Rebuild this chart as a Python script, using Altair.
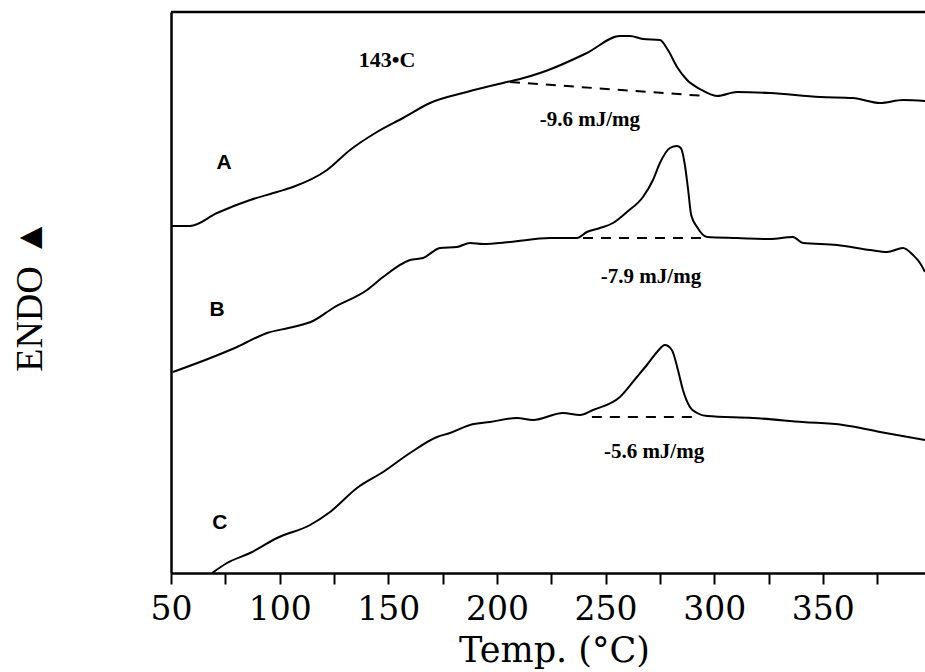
import altair as alt
import pandas as pd

# Curve A (temperature in °C, signal in arbitrary units)
a_x = [50, 58.7, 71.2, 86.4, 98.8, 106.1, 121.8, 132.4, 144.8, 156.8, 169.2, 186.2,
       202.8, 210.6, 221.2, 241.4, 256.6, 261.2, 267.2, 275.0, 278.7, 282.9, 287.5,
       293.4, 301.3, 310.5, 325.7, 348.7, 363.8, 376.3, 386.9, 397.0]
a_y = [347, 347, 360, 373, 381, 386, 403, 423, 441, 455, 470, 481,
       490, 494, 501, 520, 537, 537, 534, 533, 523, 506, 493,
       484, 477, 481, 480, 476, 475, 470, 473, 472]

# Curve B
b_x = [50.9, 69.3, 80.4, 94.2, 106.1, 115.3, 124.6, 140.2, 147.6, 160.0, 166.0, 173.8,
       181.6, 187.6, 193.6, 206.0, 224.4, 236.8, 241.4, 247.4, 253.4, 259.8, 267.2,
       271.8, 275.0, 279.6, 282.8, 284.6, 286.5, 288.0, 289.4, 292.1, 296.7, 310.5,
       325.7, 336.2, 340.8, 356.5, 371.7, 379.5, 386.9, 391.5, 394.7, 397.0]
b_y = [201, 216, 226, 240, 246, 252, 265, 283, 296, 313, 315, 325,
       326, 330, 329, 331, 335, 335, 341, 345, 350, 361, 376,
       393, 410, 425, 427, 425, 408, 383, 358, 346, 336, 335,
       334, 336, 330, 328, 323, 321, 325, 318, 310, 301]

# Curve C
c_x = [68.9, 75.8, 86.4, 98.8, 114.0, 123.2, 135.6, 147.6, 160.0, 172.4, 178.4, 187.6,
       196.8, 209.2, 216.6, 230.4, 238.2, 244.2, 256.6, 264.4, 269.0, 273.7, 277.3,
       280.5, 283.3, 285.6, 288.8, 292.1, 296.7, 317.8, 340.8, 359.3, 376.3, 397.0]
c_y = [0, 10, 20, 35, 48, 61, 85, 101, 120, 136, 140, 148,
       151, 155, 153, 160, 158, 163, 176, 196, 208, 221, 228,
       223, 203, 183, 166, 160, 157, 155, 151, 148, 141, 133]

# Dashed integration baselines
base_curve = ["A", "A", "B", "B", "C", "C"]
base_x = [206.0, 295.7, 239.6, 296.7, 243.7, 290.2]
base_y = [491, 477, 335, 335, 156, 156]

# Annotations
label_text = ["A", "B", "C"]
label_x = [74.4, 71.2, 72.5]
label_y = [410, 263, 50]

enth_text = ["-9.6 mJ/mg", "-7.9 mJ/mg", "-5.6 mJ/mg"]
enth_x = [242.8, 270.9, 272.3]
enth_y = [453, 296, 121]

temp_text = ["143\u2022C"]
temp_x = [149.4]
temp_y = [513]

x_ticks = [50, 75, 100, 125, 150, 175, 200, 225, 250, 275, 300, 325, 350, 375]

curves = pd.concat([
    pd.DataFrame({"x": a_x, "y": a_y, "curve": "A"}),
    pd.DataFrame({"x": b_x, "y": b_y, "curve": "B"}),
    pd.DataFrame({"x": c_x, "y": c_y, "curve": "C"}),
], ignore_index=True)
curves["order"] = range(len(curves))

bases = pd.DataFrame({"x": base_x, "y": base_y, "curve": base_curve})
labels = pd.DataFrame({"x": label_x, "y": label_y, "t": label_text})
enth = pd.DataFrame({"x": enth_x, "y": enth_y, "t": enth_text})
temp = pd.DataFrame({"x": temp_x, "y": temp_y, "t": temp_text})

xscale = alt.Scale(domain=[50, 397], nice=False, zero=False)
yscale = alt.Scale(domain=[0, 561], nice=False, zero=False)

x_axis = alt.Axis(
    values=x_ticks,
    labelExpr="datum.value % 50 == 0 ? datum.label : ''",
    grid=False, labelFlush=False, labelOverlap=False,
    domainColor="black", domainWidth=2.5,
    tickColor="black", tickWidth=2, tickSize=11,
    labelFont="DejaVu Serif", labelFontSize=33, labelColor="black",
    labelBaseline="alphabetic", labelPadding=35,
    title="Temp. (\u00b0C)", titleFont="DejaVu Serif", titleFontSize=35,
    titleFontWeight="normal", titleColor="black",
    titleX=383, titleY=88, titleBaseline="alphabetic", titleAlign="center",
)
y_axis = alt.Axis(
    grid=False, ticks=False, labels=False,
    domainColor="black", domainWidth=2.5,
    title="ENDO \u25b2", titleFont="Liberation Serif", titleFontSize=38,
    titleFontWeight="normal", titleColor="black", titleAngle=270,
    titleX=-130, titleY=283, titleBaseline="alphabetic", titleAlign="center",
)

lines = alt.Chart(curves).mark_line(
    color="black", strokeWidth=2, clip=True, interpolate="monotone"
).encode(
    x=alt.X("x:Q", scale=xscale, axis=x_axis),
    y=alt.Y("y:Q", scale=yscale, axis=y_axis),
    detail="curve:N",
    order="order:Q",
)

dashes = alt.Chart(bases).mark_line(color="black", strokeWidth=2, strokeDash=[10, 8]).encode(
    x=alt.X("x:Q", scale=xscale),
    y=alt.Y("y:Q", scale=yscale),
    detail="curve:N",
)

top_border = alt.Chart(pd.DataFrame({"k": [0]})).mark_rule(color="black", strokeWidth=2.5).encode(
    x=alt.value(0), x2=alt.value(754), y=alt.value(0)
)

curve_labels = alt.Chart(labels).mark_text(
    font="Liberation Sans", fontSize=21, fontWeight="bold", color="black",
    align="center", baseline="middle"
).encode(x=alt.X("x:Q", scale=xscale), y=alt.Y("y:Q", scale=yscale), text="t:N")

enth_labels = alt.Chart(enth).mark_text(
    font="Liberation Serif", fontSize=21, fontWeight="bold", color="black",
    align="center", baseline="middle"
).encode(x=alt.X("x:Q", scale=xscale), y=alt.Y("y:Q", scale=yscale), text="t:N")

temp_label = alt.Chart(temp).mark_text(
    font="Liberation Serif", fontSize=22, fontWeight="bold", color="black",
    align="center", baseline="middle"
).encode(x=alt.X("x:Q", scale=xscale), y=alt.Y("y:Q", scale=yscale), text="t:N")

chart = alt.layer(lines, dashes, top_border, curve_labels, enth_labels, temp_label).properties(
    width=754, height=561,
    autosize=alt.AutoSizeParams(type="none"),
    padding={"left": 171, "top": 12, "right": 0, "bottom": 99},
    background="white",
).configure_view(stroke=None)

chart.save("out.html", embed_options={"renderer": "svg", "actions": False})
